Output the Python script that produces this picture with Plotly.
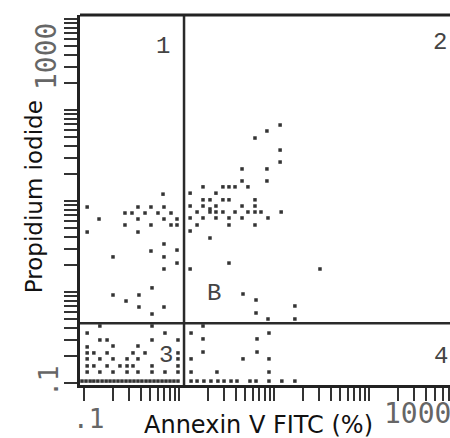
import plotly.graph_objects as go

# ---------------- data ----------------
# Quadrant 1 : Annexin V negative / PI positive
q1_annexin = [0.679, 0.108, 0.37, 0.507, 0.695, 0.27, 0.32, 0.439, 0.601, 0.824,
              0.144, 0.37, 0.695, 0.953, 0.27, 0.507, 0.824, 0.953, 0.108, 0.37,
              0.695, 0.507, 0.953, 0.202, 0.695, 0.953, 0.695, 0.52, 0.202, 0.379,
              0.277, 0.379, 0.695, 0.52]
q1_pi = [11.9, 8.59, 8.59, 8.59, 8.59, 7.38, 7.38, 7.38, 7.38, 7.38,
         6.34, 6.34, 6.34, 6.34, 5.45, 5.45, 5.45, 5.45, 4.56, 4.56,
         3.37, 2.82, 2.89, 2.43, 2.43, 2.08, 1.79, 1.11, 0.927, 0.927,
         0.796, 0.684, 0.684, 0.573]

# Quadrant 2 : Annexin V positive / PI positive
q2_annexin = [11.6, 8.43, 6.31, 11.6, 11.6, 4.61, 8.43, 4.61, 8.43,
              1.79, 2.90, 3.36, 3.89, 5.32, 1.31, 2.45,
              1.79, 2.12, 2.90, 3.36, 6.31,
              1.31, 1.79, 2.45, 4.61, 6.31, 2.12,
              1.55, 2.12, 2.45, 2.90, 3.89, 5.32, 6.31, 7.30, 11.9,
              1.31, 1.79, 2.45, 3.36, 4.61, 8.65,
              1.55, 3.36, 6.31, 1.31, 2.12, 3.36, 1.31, 30.5,
              4.72, 6.47, 16.6, 6.47, 8.65, 16.6]
q2_pi = [68.4, 58.8, 49.2, 36.3, 26.8, 22.5, 22.5, 16.6, 16.6,
         14.3, 14.3, 14.3, 14.3, 14.3, 12.2, 12.2,
         10.3, 10.3, 10.3, 10.3, 10.3,
         8.81, 8.81, 8.81, 8.81, 8.81, 8.17,
         7.57, 7.57, 7.57, 7.57, 7.57, 7.57, 7.57, 7.57, 7.57,
         6.51, 6.51, 6.51, 6.51, 6.51, 6.51,
         5.45, 5.45, 5.45, 4.68, 3.92, 2.08, 1.79, 1.79,
         0.951, 0.817, 0.702, 0.588, 0.505, 0.505]

# Quadrant 3 : double negative (viable)
q3_annexin = [0.147, 0.52, 0.108, 0.712, 0.147, 0.175, 0.52, 0.976,
              0.108, 0.202, 0.37, 0.108, 0.127, 0.175, 0.328, 0.439, 0.976,
              0.108, 0.147, 0.202, 0.284, 0.37, 0.976,
              0.108, 0.127, 0.175, 0.239, 0.284, 0.328, 0.52, 0.976,
              0.108, 0.147, 0.202, 0.284, 0.37, 0.52, 0.712, 0.976,
              0.0953, 0.105, 0.116, 0.127, 0.140, 0.155, 0.171, 0.188, 0.207,
              0.228, 0.251, 0.277, 0.305, 0.336, 0.37, 0.407, 0.45, 0.495,
              0.546, 0.601, 0.663, 0.73, 0.804, 0.885, 0.976]
q3_pi = [0.423, 0.423, 0.354, 0.354, 0.297, 0.297, 0.297, 0.297,
         0.249, 0.255, 0.255, 0.214, 0.214, 0.214, 0.214, 0.214, 0.214,
         0.184, 0.184, 0.184, 0.184, 0.184, 0.184,
         0.154, 0.154, 0.154, 0.154, 0.154, 0.154, 0.154, 0.154,
         0.132, 0.132, 0.132, 0.132, 0.132, 0.132, 0.132, 0.132,
         0.105, 0.105, 0.105, 0.105, 0.105, 0.105, 0.105, 0.105, 0.105,
         0.105, 0.105, 0.105, 0.105, 0.105, 0.105, 0.105, 0.105, 0.105,
         0.105, 0.105, 0.105, 0.105, 0.105, 0.105, 0.105]

# Quadrant 4 : Annexin V positive / PI negative
q4_annexin = [1.79, 1.34, 1.79, 6.63, 8.86, 1.79, 6.63, 1.34, 4.72, 8.86,
              1.34, 2.51, 8.86,
              1.34, 1.55, 1.83, 2.17, 2.57, 2.98, 3.53, 4.08, 5.59, 6.47,
              8.86, 12.1, 16.6]
q4_pi = [0.423, 0.354, 0.305, 0.305, 0.354, 0.219, 0.219, 0.184, 0.184, 0.184,
         0.132, 0.132, 0.132,
         0.105, 0.105, 0.105, 0.105, 0.105, 0.105, 0.105, 0.105, 0.105, 0.105,
         0.105, 0.105, 0.105]

# quadrant gates
gate_annexin = 1.13
gate_pi = 0.453

# axis ranges (log10) and tick labels
x_range = [-1.042, 2.853]
y_range = [-1.022, 3.044]
tick_labels = [".1", "1000"]
x_title = "Annexin V FITC (%)"
y_title = "Propidium iodide"
quadrant_labels = ["1", "2", "3", "4", "B"]

# ---------------- figure ----------------
fig = go.Figure()
dot = dict(symbol="square", size=3.5, color="#333333", line=dict(width=0))
for xs, ys in [(q1_annexin, q1_pi), (q2_annexin, q2_pi),
               (q3_annexin, q3_pi), (q4_annexin, q4_pi)]:
    fig.add_trace(go.Scatter(x=xs, y=ys, mode="markers", marker=dot,
                             hoverinfo="skip", showlegend=False))

y_lo, y_hi = 10 ** y_range[0], 10 ** y_range[1]
x_lo, x_hi = 10 ** x_range[0], 10 ** x_range[1]
gate_line = dict(color="#2a2a2a", width=2.5)
fig.add_trace(go.Scatter(x=[gate_annexin, gate_annexin], y=[y_lo, y_hi],
                         mode="lines", line=gate_line, hoverinfo="skip",
                         showlegend=False))
fig.add_trace(go.Scatter(x=[x_lo, x_hi], y=[gate_pi, gate_pi],
                         mode="lines", line=gate_line, hoverinfo="skip",
                         showlegend=False))


def log_ticks(lo, hi):
    vals = []
    for k in range(-1, 4):
        for m in range(1, 10):
            v = m * 10 ** k
            if lo <= v <= hi:
                vals.append(v)
    return vals


axis_common = dict(type="log", showgrid=False, zeroline=False,
                   showline=True, linewidth=3, linecolor="#222222",
                   ticks="outside", ticklen=13, tickwidth=2,
                   tickcolor="#333333", showticklabels=False, mirror=False)

fig.update_layout(
    width=450, height=438, autosize=False,
    margin=dict(l=80, r=0, t=15, b=53, pad=0),
    paper_bgcolor="white", plot_bgcolor="white",
    showlegend=False,
    xaxis=dict(range=x_range, tickvals=log_ticks(x_lo, x_hi), **axis_common),
    yaxis=dict(range=y_range, tickvals=log_ticks(y_lo, y_hi), **axis_common),
)

# top border line
fig.add_shape(type="line", xref="paper", yref="paper", x0=0, x1=1, y0=1, y1=1,
              line=dict(color="#222222", width=3))

mono = "DejaVu Sans Mono"
tick_font = dict(family=mono, size=28, color="#666666")
ann = []
# tick labels
ann.append(dict(text=tick_labels[0], xref="paper", yref="paper", x=0.022, y=-0.092,
                showarrow=False, font=dict(family=mono, size=26, color="#666666"),
                xanchor="center", yanchor="middle"))
ann.append(dict(text=tick_labels[1], xref="paper", yref="paper", x=0.816, y=-0.078,
                showarrow=False, font=tick_font, xanchor="left", yanchor="middle"))
ann.append(dict(text=tick_labels[0], xref="paper", yref="paper", x=-0.084, y=0.011,
                showarrow=False, font=dict(family=mono, size=26, color="#666666"),
                textangle=-90, xanchor="center", yanchor="middle"))
ann.append(dict(text=tick_labels[1], xref="paper", yref="paper", x=-0.092, y=0.889,
                showarrow=False, font=tick_font, textangle=-90,
                xanchor="center", yanchor="middle"))
# axis titles
ann.append(dict(text=x_title, xref="paper", yref="paper", x=0.482, y=-0.108,
                showarrow=False, xanchor="center", yanchor="middle",
                font=dict(family="DejaVu Sans", size=24, color="#111111")))
ann.append(dict(text=y_title, xref="paper", yref="paper", x=-0.124, y=0.508,
                showarrow=False, xanchor="center", yanchor="middle", textangle=-90,
                font=dict(family="DejaVu Sans", size=23, color="#111111")))
# quadrant labels
q_pos = [(0.224, 0.914), (0.973, 0.927), (0.232, 0.081), (0.976, 0.076), (0.362, 0.246)]
q_font = dict(family="Liberation Mono", size=24, color="#444444")
for lab, (px, py) in zip(quadrant_labels, q_pos):
    ann.append(dict(text=lab, xref="paper", yref="paper", x=px, y=py,
                    showarrow=False, xanchor="center", yanchor="middle", font=q_font))
fig.update_layout(annotations=ann)

# remove the default page margin so the 450x438 figure fills the window exactly
fig.write_html("out.html",
               config={"displayModeBar": False, "staticPlot": True},
               post_script="document.body.style.margin='0';"
                           "document.body.style.overflow='hidden';")
